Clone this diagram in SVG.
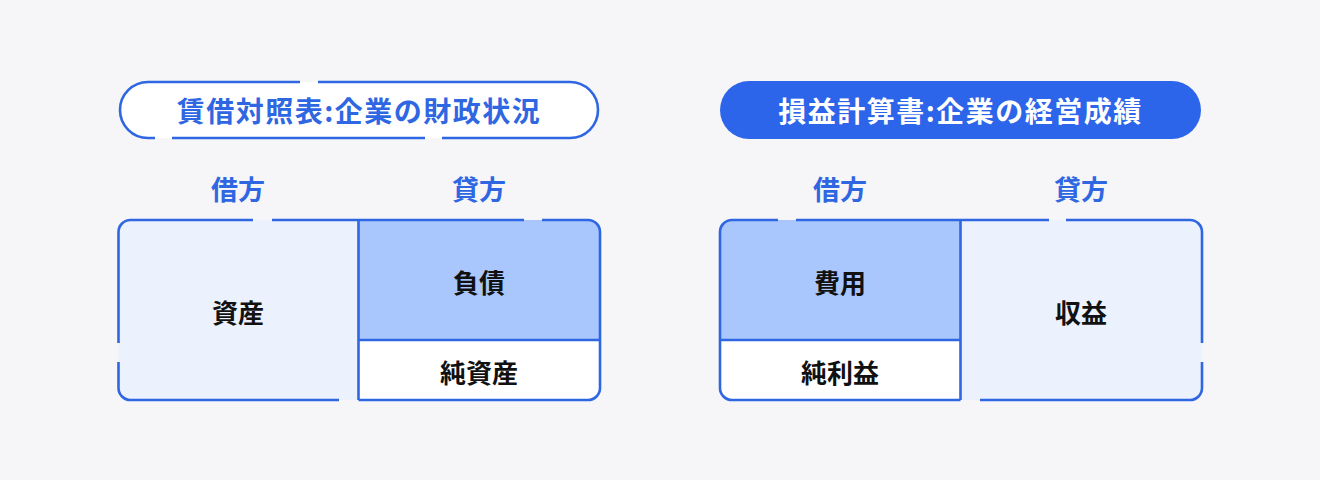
<svg xmlns="http://www.w3.org/2000/svg" width="1320" height="480" viewBox="0 0 1320 480">
<style>
.ln{fill:none;stroke:#2F67E2;stroke-width:2.6;stroke-linecap:butt;stroke-linejoin:round}
.t{font-family:"Noto Sans CJK JP","Noto Sans CJK SC",sans-serif;font-weight:700;text-anchor:middle;dominant-baseline:central}
.title{font-size:28px;fill:#2F67E2;letter-spacing:1.5px}
.side{font-size:27px;fill:#2F67E2}
.cell{font-size:26px;fill:#111111}
.light{fill:#EBF2FD}
.mid{fill:#A9C7FD}
.white{fill:#FFFFFF}
</style>
<rect x="0" y="0" width="1320" height="480" fill="#F6F5F7"/>

<g id="bs-title">
  <rect x="120" y="82" width="478" height="56" rx="28" fill="#FFFFFF"/>
  <path class="ln" d="M318,82 H570 A28,28 0 0 1 570,138 H442 M425,138 H172 M155,138 H148 A28,28 0 0 1 148,82 H300"/>
  <text class="t title" x="359" y="110">賃借対照表:企業の財政状況</text>
</g>

<g id="pl-title">
  <rect x="720" y="81" width="481" height="58" rx="29" fill="#2C64EA"/>
  <text class="t title" x="960.5" y="110" style="fill:#FFFFFF">損益計算書:企業の経営成績</text>
</g>

<g id="bs-debit-label"><text class="t side" x="238" y="188">借方</text></g>
<g id="bs-credit-label"><text class="t side" x="479" y="188">貸方</text></g>
<g id="pl-debit-label"><text class="t side" x="840" y="188">借方</text></g>
<g id="pl-credit-label"><text class="t side" x="1081" y="188">貸方</text></g>

<g id="bs-assets">
  <path class="light" d="M130.5,220 H358.5 V400 H130.5 A12,12 0 0 1 118.5,388 V232 A12,12 0 0 1 130.5,220 Z"/>
  <text class="t cell" x="238" y="311">資産</text>
</g>
<g id="bs-liabilities">
  <path class="mid" d="M358.5,220 H588 A12,12 0 0 1 600,232 V340 H358.5 Z"/>
  <text class="t cell" x="479" y="281">負債</text>
</g>
<g id="bs-equity">
  <path class="white" d="M358.5,340 H600 V388 A12,12 0 0 1 588,400 H358.5 Z"/>
  <text class="t cell" x="479" y="371">純資産</text>
</g>

<g id="pl-expenses">
  <path class="mid" d="M732,220 H960.5 V340 H720 V232 A12,12 0 0 1 732,220 Z"/>
  <text class="t cell" x="840" y="281">費用</text>
</g>
<g id="pl-net-income">
  <path class="white" d="M720,340 H960.5 V400 H732 A12,12 0 0 1 720,388 Z"/>
  <text class="t cell" x="840" y="371">純利益</text>
</g>
<g id="pl-revenue">
  <path class="light" d="M960.5,220 H1190 A12,12 0 0 1 1202,232 V388 A12,12 0 0 1 1190,400 H960.5 Z"/>
  <text class="t cell" x="1081" y="311">収益</text>
</g>

<g id="connectors">
  <path class="ln" d="M272,220 H524 M542,220 H588 A12,12 0 0 1 600,232 V388 A12,12 0 0 1 588,400 H358.5 M339,400 H130.5 A12,12 0 0 1 118.5,388 V362 M118.5,343 V232 A12,12 0 0 1 130.5,220 H253"/>
  <path class="ln" d="M358.5,220 V400 M358.5,340 H600"/>
  <path class="ln" d="M796,220 H1049 M1066,220 H1190 A12,12 0 0 1 1202,232 V343 M1202,362 V388 A12,12 0 0 1 1190,400 H980 M960.5,400 H732 A12,12 0 0 1 720,388 V232 A12,12 0 0 1 732,220 H778"/>
  <path class="ln" d="M960.5,220 V400 M720,340 H960.5"/>
</g>
</svg>
